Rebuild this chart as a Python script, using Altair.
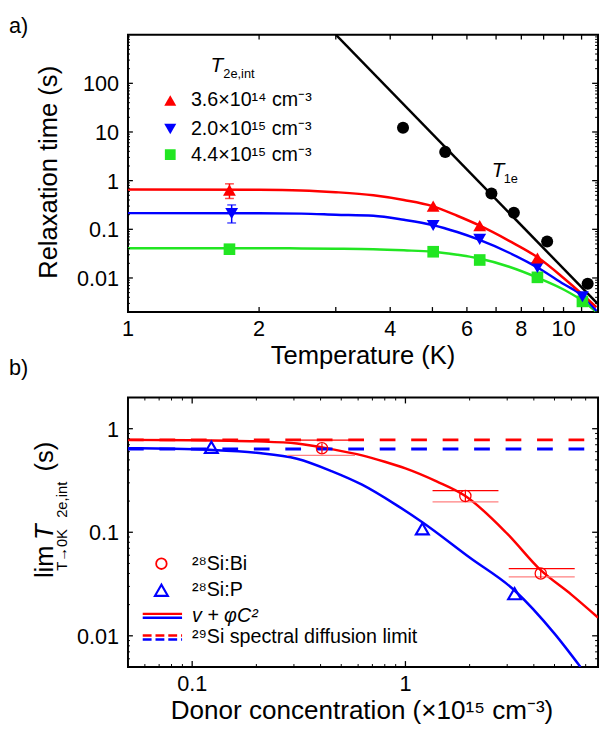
import altair as alt
import pandas as pd

FONT = "Liberation Sans"
RED = "#ff0000"
BLUE = "#0000ff"
GREEN = "#22e622"
PINK = "#ff8080"

# ---------------- Panel a data ----------------
t1e_T = [4.28, 5.35, 6.83, 7.69, 9.17, 11.36]
t1e_tau = [12.2, 3.9, 0.546, 0.219, 0.056, 0.0076]
t1e_fit_T = [3.0, 12.0]
t1e_fit_tau = [1000.0, 0.0029]

red_T = [1.71, 5.02, 6.42, 8.71]
red_tau = [0.64, 0.30, 0.119, 0.0257]
blue_T = [1.73, 5.02, 6.42, 8.71, 11.05]
blue_tau = [0.212, 0.12, 0.062, 0.0164, 0.0041]
green_T = [1.71, 5.02, 6.42, 8.71, 11.05]
green_tau = [0.039, 0.0346, 0.0234, 0.0103, 0.0033]

err_T = [1.71, 1.73]
err_lo = [0.43, 0.135]
err_hi = [0.86, 0.317]
err_col = ["red", "blue"]

fit_T = [1, 2, 2.5, 3, 3.66, 4.3, 5.0, 5.7, 6.37, 7.5, 8.75, 10, 11.05, 11.9]
red_fit = [0.66, 0.65, 0.63, 0.58, 0.50, 0.40, 0.30, 0.19, 0.123, 0.058, 0.026, 0.010, 0.0046, 0.0025]
blue_fit = [0.215, 0.213, 0.21, 0.20, 0.19, 0.157, 0.123, 0.088, 0.062, 0.033, 0.016, 0.0075, 0.0043, 0.0021]
green_fit = [0.041, 0.041, 0.0405, 0.040, 0.039, 0.037, 0.0346, 0.030, 0.0254, 0.017, 0.0100, 0.0058, 0.0034, 0.002]

a_legend = ["3.6×10¹⁴ cm⁻³", "2.0×10¹⁵ cm⁻³", "4.4×10¹⁵ cm⁻³"]
a_x_labels = [1, 2, 4, 6, 8, 10]
a_x_label_text = ["1", "2", "4", "6", "8", "10"]
a_x_ticks = [1, 2, 3, 4, 5, 6, 7, 8, 9, 10, 11, 12]
a_y_major = [0.01, 0.1, 1, 10, 100]
a_y_label_text = ["0.01", "0.1", "1", "10", "100"]
mult = [2, 3, 4, 5, 6, 7, 8, 9]
a_y_minor = [m * 10.0 ** e for e in range(-3, 3) for m in mult if 0.002 <= m * 10.0 ** e <= 1000]

# ---------------- Panel b data ----------------
bi_C = [0.406, 1.91, 4.31]
bi_tau = [0.648, 0.224, 0.040]
bi_vlo = [0.58, 0.20, 0.036]
bi_vhi = [0.72, 0.25, 0.045]
bi_xlo = [0.279, 1.34, 3.05]
bi_xhi = [0.58, 2.73, 6.22]
bi_yup = [0.776, 0.253, 0.0445]
bi_ydn = [0.553, 0.197, 0.0371]

p_C = [0.123, 1.20, 3.25]
p_tau = [0.662, 0.108, 0.0255]

bi_fit_C = [0.05, 0.1, 0.2, 0.31, 0.45, 0.626, 0.8, 1.0, 1.4, 1.91, 3.0, 4.31, 6.0, 8.0]
bi_fit_tau = [0.78, 0.775, 0.755, 0.72, 0.635, 0.553, 0.48, 0.414, 0.31, 0.224, 0.097, 0.043, 0.025, 0.015]
p_fit_C = [0.05, 0.08, 0.12, 0.2, 0.31, 0.45, 0.626, 0.9, 1.2, 2.0, 3.25, 5.0, 6.62]
p_fit_tau = [0.648, 0.64, 0.625, 0.585, 0.513, 0.39, 0.288, 0.185, 0.125, 0.057, 0.0274, 0.0105, 0.005]

lim_C = [0.05, 8.0]
bi_lim = [0.78, 0.78]
p_lim = [0.638, 0.638]

b_x_labels = [0.1, 1]
b_x_label_text = ["0.1", "1"]
b_x_minor = [m * 10.0 ** e for e in (-2, -1, 0) for m in mult if 0.05 <= m * 10.0 ** e <= 8]
b_y_major = [0.01, 0.1, 1]
b_y_label_text = ["0.01", "0.1", "1"]
b_y_minor = [m * 10.0 ** e for e in (-3, -2, -1, 0) for m in mult if 0.005 <= m * 10.0 ** e <= 2]

# ---------------- helpers ----------------
WA, HA = 478, 282
WB, HB = 478, 274

xa_scale = alt.Scale(type="log", domain=[1, 12], nice=False)
ya_scale = alt.Scale(type="log", domain=[0.002, 1000], nice=False)
xb_scale = alt.Scale(type="log", domain=[0.05, 8], nice=False)
yb_scale = alt.Scale(type="log", domain=[0.005, 2], nice=False)


def XA(f="x"):
    return alt.X(f"{f}:Q", scale=xa_scale, axis=None)


def YA(f="y"):
    return alt.Y(f"{f}:Q", scale=ya_scale, axis=None)


def XB(f="x"):
    return alt.X(f"{f}:Q", scale=xb_scale, axis=None)


def YB(f="y"):
    return alt.Y(f"{f}:Q", scale=yb_scale, axis=None)


def xy(xs, ys):
    return pd.DataFrame({"x": xs, "y": ys})


def txt(s, x, y, size, align="left", baseline="alphabetic", angle=0, style="normal", color="black"):
    kw = dict(font=FONT, fontSize=size, align=align, baseline=baseline, color=color, fontStyle=style)
    if angle:
        kw["angle"] = angle
    return alt.Chart(pd.DataFrame({"s": [s]})).mark_text(**kw).encode(
        x=alt.value(x), y=alt.value(y), text="s:N")


def xlabels(vals, texts, X, ybase):
    df = pd.DataFrame({"x": vals, "t": texts})
    return alt.Chart(df).mark_text(font=FONT, fontSize=22, align="center", baseline="alphabetic", color="black").encode(
        x=X(), y=alt.value(ybase), text="t:N")


def ylabels(vals, texts, Y):
    df = pd.DataFrame({"y": vals, "t": texts})
    return alt.Chart(df).mark_text(font=FONT, fontSize=22, align="right", baseline="alphabetic", dy=8, color="black").encode(
        y=Y(), x=alt.value(-9), text="t:N")


def xticks(vals, length, X, H, sw=1.3):
    df = pd.DataFrame({"x": vals})
    bot = alt.Chart(df).mark_rule(color="black", strokeWidth=sw).encode(
        x=X(), y=alt.value(H), y2=alt.value(H - length))
    top = alt.Chart(df).mark_rule(color="black", strokeWidth=sw).encode(
        x=X(), y=alt.value(0), y2=alt.value(length))
    return [bot, top]


def yticks(vals, llen, rlen, Y, W, sw=1.3):
    df = pd.DataFrame({"y": vals})
    out = []
    if llen:
        out.append(alt.Chart(df).mark_rule(color="black", strokeWidth=sw).encode(
            y=Y(), x=alt.value(0), x2=alt.value(llen)))
    out.append(alt.Chart(df).mark_rule(color="black", strokeWidth=sw).encode(
        y=Y(), x=alt.value(W - rlen), x2=alt.value(W)))
    return out


# ---------------- Panel a ----------------
la = []
for fx, fy, col in [(fit_T, green_fit, GREEN), (fit_T, blue_fit, BLUE), (fit_T, red_fit, RED)]:
    la.append(alt.Chart(xy(fx, fy)).mark_line(color=col, strokeWidth=2.5, clip=True, interpolate="monotone").encode(x=XA(), y=YA()))
la.append(alt.Chart(xy(t1e_fit_T, t1e_fit_tau)).mark_line(color="black", strokeWidth=2.5, clip=True).encode(x=XA(), y=YA()))

err_df = pd.DataFrame({"x": err_T, "lo": err_lo, "hi": err_hi, "c": err_col})
err_cs = alt.Scale(domain=["red", "blue"], range=[RED, BLUE])
la.append(alt.Chart(err_df).mark_rule(strokeWidth=1.5).encode(
    x=XA(), y=YA("lo"), y2="hi:Q", color=alt.Color("c:N", scale=err_cs, legend=None)))
for fld in ["lo", "hi"]:
    la.append(alt.Chart(err_df).mark_tick(orient="horizontal", size=9, thickness=1.5).encode(
        x=XA(), y=YA(fld), color=alt.Color("c:N", scale=err_cs, legend=None)))

la.append(alt.Chart(xy(green_T, green_tau)).mark_point(shape="square", filled=True, opacity=1, size=140, color=GREEN).encode(x=XA(), y=YA()))
la.append(alt.Chart(xy(blue_T, blue_tau)).mark_point(shape="triangle-down", filled=True, opacity=1, size=170, color=BLUE).encode(x=XA(), y=YA()))
la.append(alt.Chart(xy(red_T, red_tau)).mark_point(shape="triangle-up", filled=True, opacity=1, size=170, color=RED).encode(x=XA(), y=YA()))
la.append(alt.Chart(xy(t1e_T, t1e_tau)).mark_point(shape="circle", filled=True, opacity=1, size=150, color="black").encode(x=XA(), y=YA()))

la += xticks(a_x_ticks, 5, XA, HA)
la += yticks(a_y_major, 5, 6, YA, WA)
la += yticks(a_y_minor, 2, 3, YA, WA, sw=1)
la.append(xlabels(a_x_labels, a_x_label_text, XA, 306))
la.append(ylabels(a_y_major, a_y_label_text, YA))
la.append(txt("Temperature (K)", WA / 2, 335, 26, align="center"))
la.append(txt("Relaxation time (s)", -72, 140, 26, align="center", angle=270))

# legend a
la.append(txt("T", 84, 38, 21, style="italic"))
la.append(txt("2e,int", 97, 44, 13))
shapes = ["triangle-up", "triangle-down", "square"]
cols = [RED, BLUE, GREEN]
rows = [67, 96, 122]
for lab, shp, col, ry in zip(a_legend, shapes, cols, rows):
    la.append(alt.Chart(pd.DataFrame({"s": [lab]})).mark_point(shape=shp, filled=True, opacity=1, size=150 if shp != "square" else 120, color=col).encode(
        x=alt.value(43), y=alt.value(ry)))
    la.append(txt(lab, 64, ry, 20, baseline="middle"))
la.append(txt("T", 370, 145, 21, style="italic"))
la.append(txt("1e", 382, 151, 13))
la.append(txt("a)", -121, -2, 22))
la.append(txt("b)", -121, 346, 22))

panel_a = alt.layer(*la).properties(width=WA, height=HA)

# ---------------- Panel b ----------------
lb = []
lb.append(alt.Chart(xy(p_fit_C, p_fit_tau)).mark_line(color=BLUE, strokeWidth=2.5, clip=True, interpolate="monotone").encode(x=XB(), y=YB()))
lb.append(alt.Chart(xy(bi_fit_C, bi_fit_tau)).mark_line(color=RED, strokeWidth=2.5, clip=True, interpolate="monotone").encode(x=XB(), y=YB()))
lb.append(alt.Chart(xy(lim_C, p_lim)).mark_line(color=BLUE, strokeWidth=3, strokeDash=[16, 16], clip=True).encode(x=XB(), y=YB()))
lb.append(alt.Chart(xy(lim_C, bi_lim)).mark_line(color=RED, strokeWidth=3, strokeDash=[16, 16], clip=True).encode(x=XB(), y=YB()))

hb = pd.DataFrame({"x": bi_xlo, "x2": bi_xhi, "yu": bi_yup, "yd": bi_ydn})
lb.append(alt.Chart(hb).mark_rule(color=RED, strokeWidth=1.3).encode(x=XB(), x2="x2:Q", y=YB("yu")))
lb.append(alt.Chart(hb).mark_rule(color=PINK, strokeWidth=1.3).encode(x=XB(), x2="x2:Q", y=YB("yd")))
vb = pd.DataFrame({"x": bi_C, "lo": bi_vlo, "hi": bi_vhi})
lb.append(alt.Chart(vb).mark_rule(color=RED, strokeWidth=1.3).encode(x=XB(), y=YB("lo"), y2="hi:Q"))
lb.append(alt.Chart(xy(bi_C, bi_tau)).mark_point(shape="circle", filled=False, size=130, strokeWidth=1.3, color=RED, opacity=1).encode(x=XB(), y=YB()))
lb.append(alt.Chart(xy(p_C, p_tau)).mark_point(shape="triangle-up", filled=False, size=170, strokeWidth=2.2, color=BLUE, opacity=1).encode(x=XB(), y=YB()))

lb += xticks(b_x_labels, 6, XB, HB)
lb += xticks(b_x_minor, 3, XB, HB, sw=1)
lb += yticks(b_y_major, 5, 6, YB, WB)
lb += yticks(b_y_minor, 2, 3, YB, WB, sw=1)
lb.append(xlabels(b_x_labels, b_x_label_text, XB, 298))
lb.append(ylabels(b_y_major, b_y_label_text, YB))
lb.append(txt("Donor concentration (×10¹⁵ cm⁻³)", WB / 2 - 1, 327, 26.5, align="center"))

# legend b
lb.append(alt.Chart(pd.DataFrame({"s": ["bi"]})).mark_point(shape="circle", filled=False, size=115, strokeWidth=1.8, color=RED, opacity=1).encode(x=alt.value(34), y=alt.value(169)))
lb.append(alt.Chart(pd.DataFrame({"s": ["p"]})).mark_point(shape="triangle-up", filled=False, size=170, strokeWidth=2.2, color=BLUE, opacity=1).encode(x=alt.value(34), y=alt.value(196)))
lb.append(txt("²⁸Si:Bi", 65, 169, 20, baseline="middle"))
lb.append(txt("²⁸Si:P", 65, 196, 20, baseline="middle"))
for yy, col in [(220, RED), (224, BLUE)]:
    lb.append(alt.Chart(pd.DataFrame({"s": ["l"]})).mark_rule(color=col, strokeWidth=2.5).encode(
        x=alt.value(15), x2=alt.value(55), y=alt.value(yy)))
for yy, col in [(242, RED), (246, BLUE)]:
    lb.append(alt.Chart(pd.DataFrame({"s": ["l"]})).mark_rule(color=col, strokeWidth=2.5, strokeDash=[9, 4]).encode(
        x=alt.value(15), x2=alt.value(55), y=alt.value(yy)))
lb.append(txt("v + φC²", 65, 222, 20, baseline="middle", style="italic"))
lb.append(txt("²⁹Si spectral diffusion limit", 65, 244, 20, baseline="middle"))

# y title of panel b (rotated pieces)
lb.append(txt("lim", -76, 167, 26, align="center", angle=270))
lb.append(txt("T", -76, 137, 26, align="center", angle=270, style="italic"))
lb.append(txt("2e,int", -62, 104, 15, align="center", angle=270))
lb.append(txt("(s)", -76, 60, 26, align="center", angle=270))
lb.append(txt("T→0K", -62, 155, 15, align="center", angle=270))

panel_b = alt.layer(*lb).properties(width=WB, height=HB)

chart = alt.vconcat(panel_a, panel_b, spacing=16).properties(
    padding={"left": 0, "top": 0, "right": 0, "bottom": 0}
).configure_view(stroke="black", strokeWidth=2).resolve_scale(color="independent")

chart.save("out.html", embed_options={"renderer": "svg", "actions": False})
